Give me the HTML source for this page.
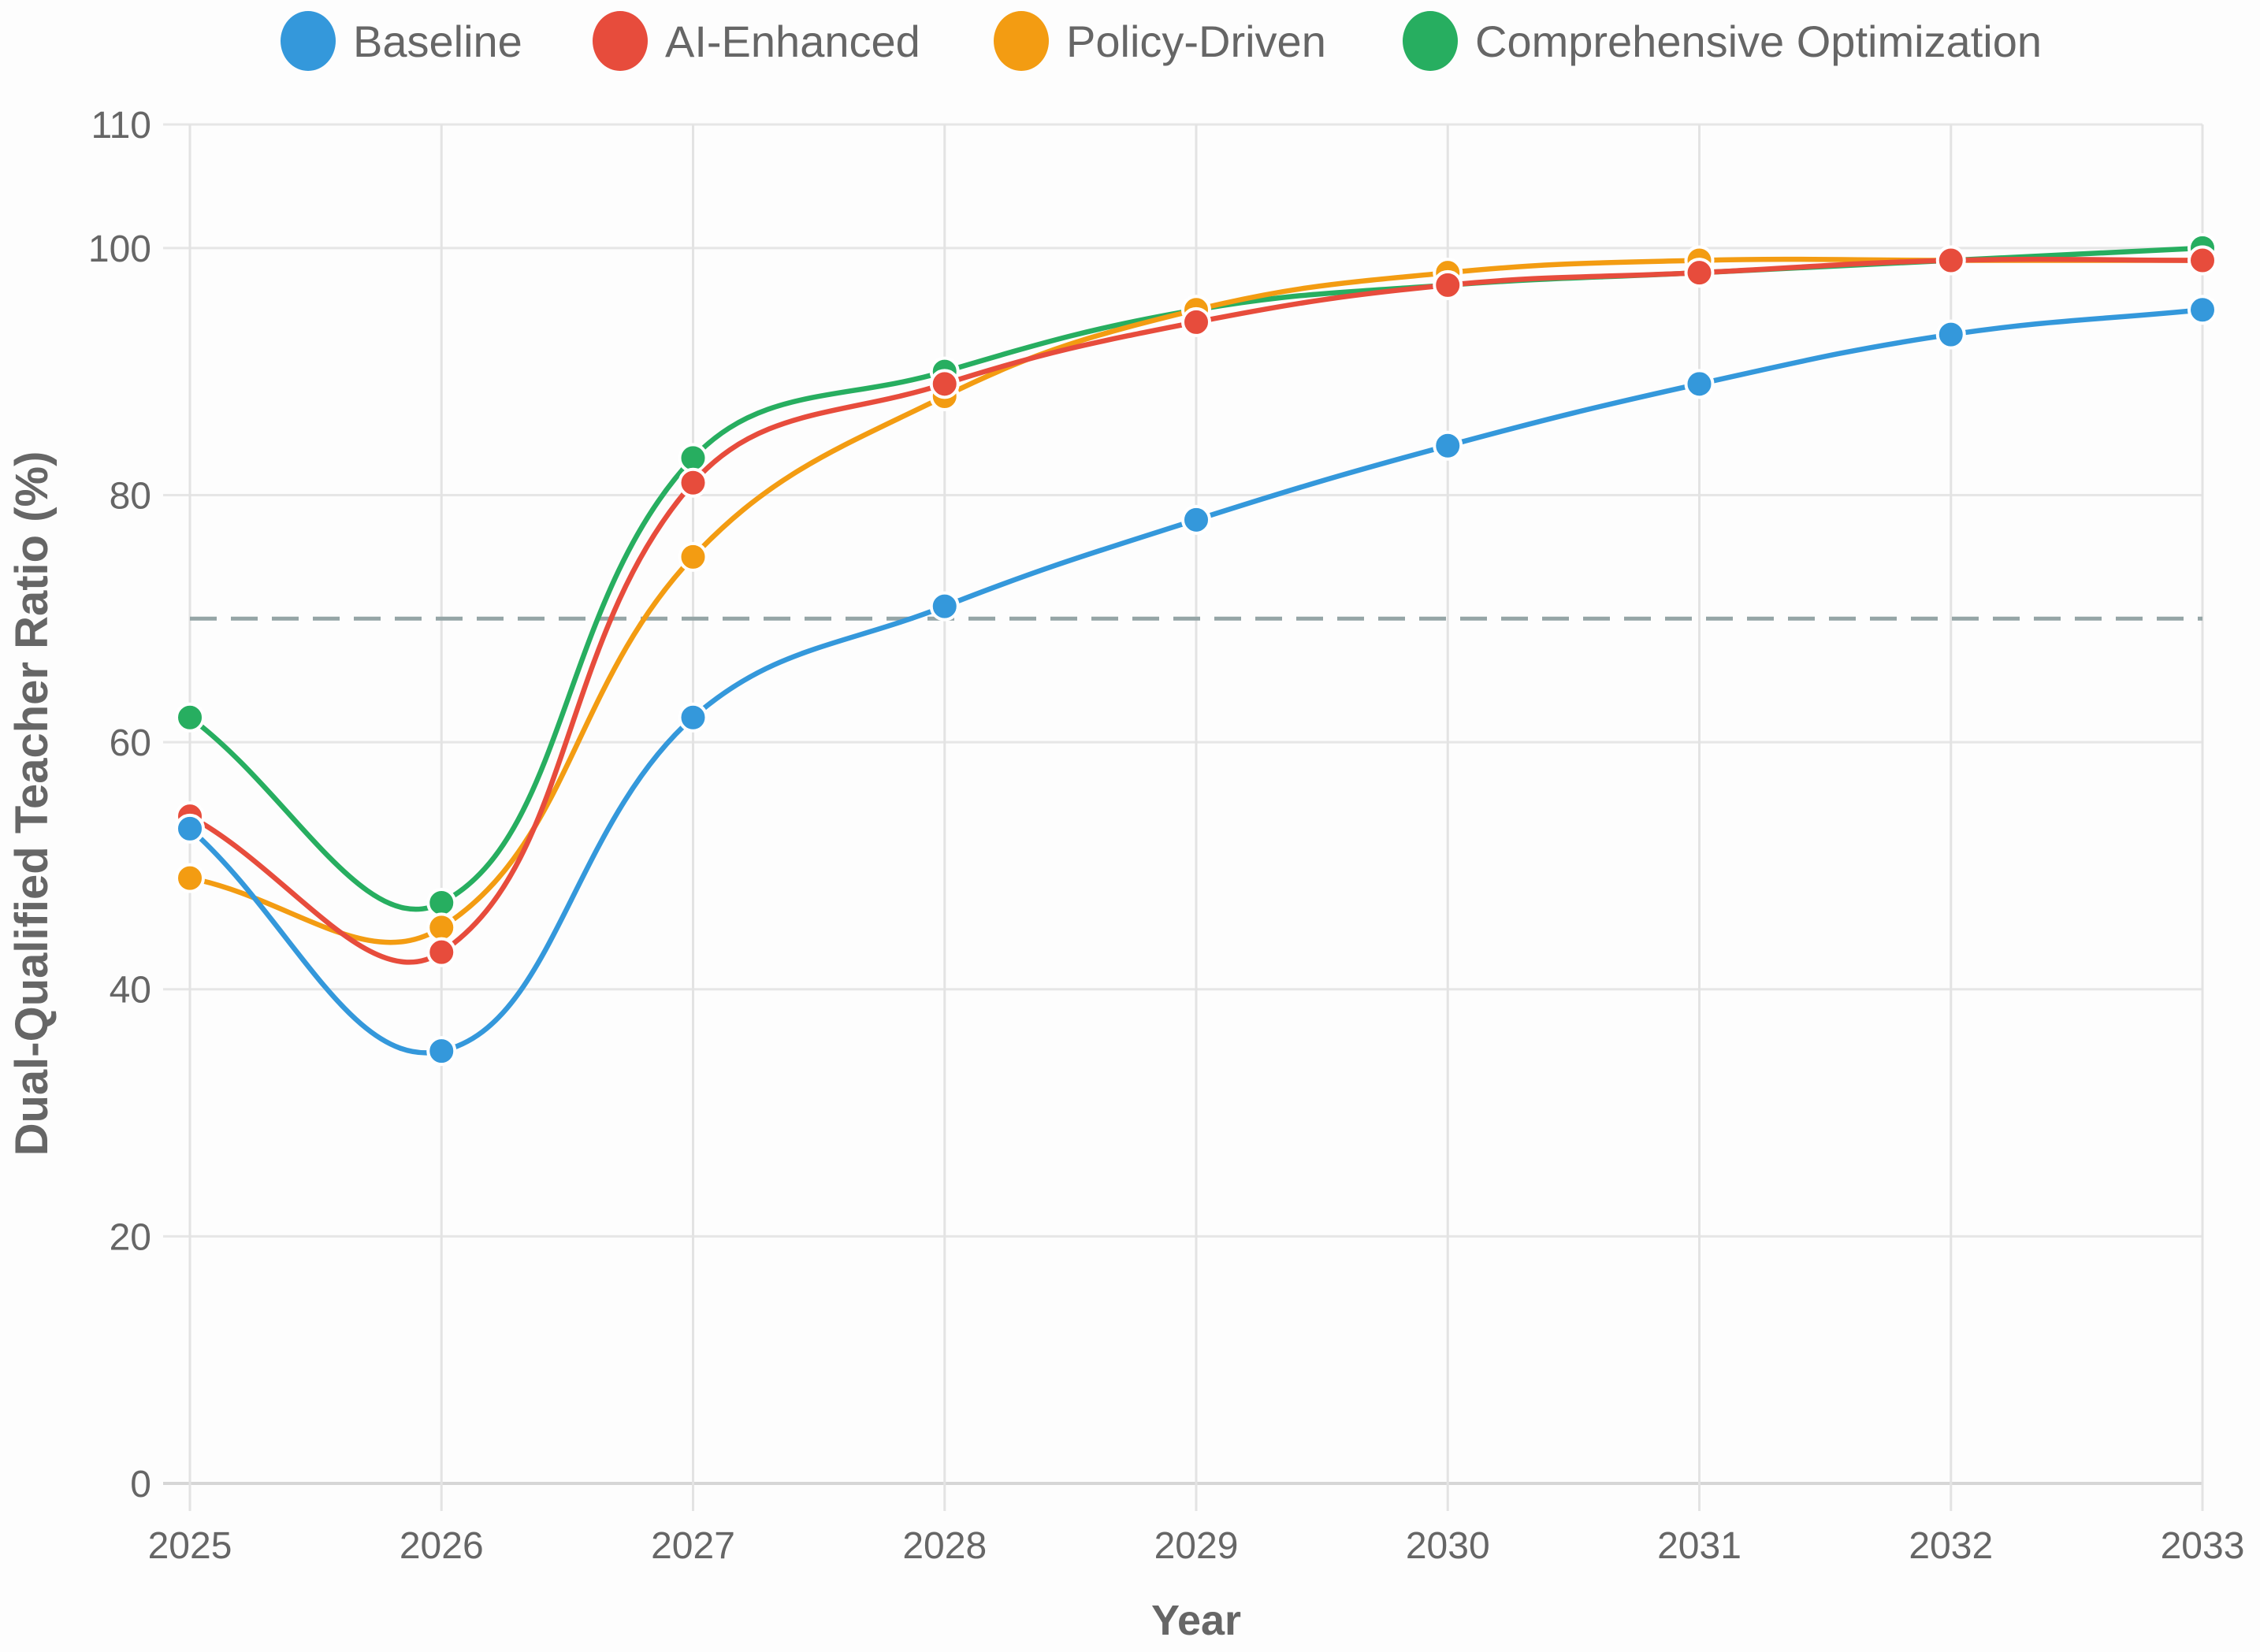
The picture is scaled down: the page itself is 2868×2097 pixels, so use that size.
<!DOCTYPE html>
<html><head><meta charset="utf-8"><style>
html,body{margin:0;padding:0;background:#fdfdfd;}
svg{display:block;font-family:"Liberation Sans",Arial,sans-serif;}
</style></head><body>
<svg id="chart" width="2868" height="2097" viewBox="0 0 2868 2097" xmlns="http://www.w3.org/2000/svg">
<rect width="2868" height="2097" fill="#fdfdfd"/>
<g id="grid"></g>
<g id="series"></g>
<g id="legend"></g>
<text x="0" y="0" transform="translate(60,1020) rotate(-90)" text-anchor="middle" font-size="58" font-weight="bold" fill="#666">Dual-Qualified Teacher Ratio (%)</text>
<text x="1518" y="2075" text-anchor="middle" font-size="54" font-weight="bold" fill="#666">Year</text>
</svg>
<script>
const years = [2025,2026,2027,2028,2029,2030,2031,2032,2033];
const baseline = [53,35,62,71,78,84,89,93,95];
const aiEnhanced = [54,43,81,89,94,97,98,99,99];
const policyDriven = [49,45,75,88,95,98,99,99,99];
const comprehensive = [62,47,83,90,95,97,98,99,100];
const yTicks = [0,20,40,60,80,100,110];
const targetValue = 70;
const seriesNames = ['Baseline','AI-Enhanced','Policy-Driven','Comprehensive Optimization'];
const seriesColors = ['#3498db','#e74c3c','#f39c12','#27ae60'];
const seriesData = [baseline, aiEnhanced, policyDriven, comprehensive];

const NS='http://www.w3.org/2000/svg';
const X0=241,X1=2795,Y0=1883,Y1=158;
function xs(i){return X0+(X1-X0)*i/(years.length-1);}
function ys(v){return Y0-(Y0-Y1)*v/110;}
function mk(t,a,p){const e=document.createElementNS(NS,t);for(const k in a)e.setAttribute(k,a[k]);p.appendChild(e);return e;}
const grid=document.getElementById('grid');
yTicks.forEach(v=>{
  const l=mk('line',{x1:207,x2:X1,y1:ys(v),y2:ys(v),stroke:v===0?'#d6d6d6':'#e6e6e6','stroke-width':v===0?4:3},grid);
  
  
  const t=mk('text',{x:192,y:ys(v)+17,'text-anchor':'end','font-size':48,fill:'#666'},grid);
  t.textContent=v;
  
  
});
years.forEach((y,i)=>{
  const l=mk('line',{x1:xs(i),x2:xs(i),y1:Y1,y2:1918,stroke:'#e3e3e3','stroke-width':3},grid);
  
  
  const t=mk('text',{x:xs(i),y:1978,'text-anchor':'middle','font-size':48,fill:'#666'},grid);
  t.textContent=y;
  
  
});
const dl=mk('line',{x1:X0,x2:X1,y1:ys(targetValue),y2:ys(targetValue),stroke:'#95a5a6','stroke-width':5,'stroke-dasharray':'34 18'},grid);



function splinePath(pts){
  const t=0.4;let d='M'+pts[0][0]+','+pts[0][1];
  const cps=pts.map((p,i)=>{
    const prev=pts[i-1]||p,next=pts[i+1]||p;
    const d01=Math.hypot(p[0]-prev[0],p[1]-prev[1]),d12=Math.hypot(next[0]-p[0],next[1]-p[1]);
    let s01=d01/(d01+d12),s12=d12/(d01+d12);
    if(isNaN(s01))s01=0;if(isNaN(s12))s12=0;
    const fa=t*s01,fb=t*s12;
    return {p:[p[0]-fa*(next[0]-prev[0]),p[1]-fa*(next[1]-prev[1])],n:[p[0]+fb*(next[0]-prev[0]),p[1]+fb*(next[1]-prev[1])]};
  });
  for(let i=1;i<pts.length;i++){
    d+=' C'+cps[i-1].n[0]+','+cps[i-1].n[1]+' '+cps[i].p[0]+','+cps[i].p[1]+' '+pts[i][0]+','+pts[i][1];
  }
  return d;
}
const sg=document.getElementById('series');
for(let s=seriesData.length-1;s>=0;s--){
  const g=mk('g',{},sg);
  
  
  const pts=seriesData[s].map((v,i)=>[xs(i),ys(v)]);
  const p=mk('path',{d:splinePath(pts),fill:'none',stroke:seriesColors[s],'stroke-width':6.5},g);
  
  
  pts.forEach((q,i)=>{
    const c=mk('circle',{cx:q[0],cy:q[1],r:17,fill:seriesColors[s],stroke:'#fff','stroke-width':4},g);
    
    
  });
}
const lg=document.getElementById('legend');
const lcx=[391,787,1296,1815];
seriesNames.forEach((n,i)=>{
  const g=mk('g',{},lg);
  
  
  mk('ellipse',{cx:lcx[i],cy:52,rx:35,ry:38,fill:seriesColors[i]},g);
  const t=mk('text',{x:lcx[i]+57,y:72,'font-size':56,fill:'#666'},g);
  t.textContent=n;
});
</script>
</body></html>
